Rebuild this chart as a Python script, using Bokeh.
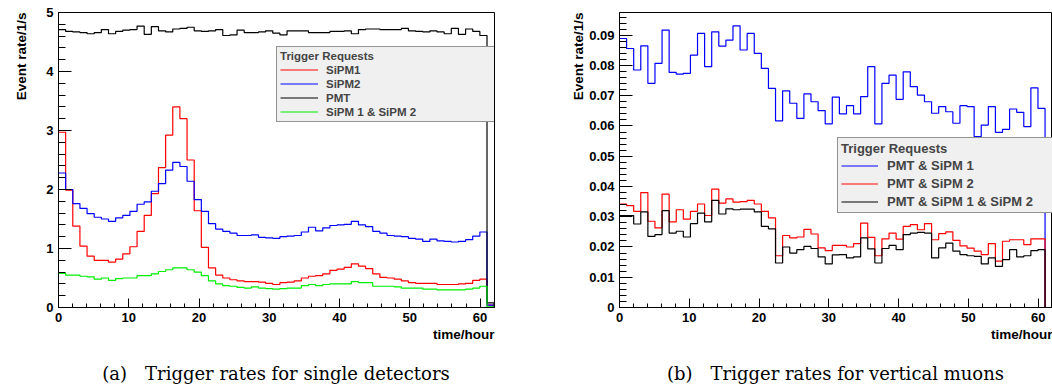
import numpy as np
from bokeh.plotting import figure
from bokeh.models import (Range1d, SingleIntervalTicker, Legend, LegendItem, Title,
                          PrintfTickFormatter, Div)
from bokeh.layouts import row, column
from bokeh.embed import file_html
from bokeh.resources import INLINE

# ---------------- data (rates per 1-hour-ish bin, 61 bins over 0..62 h) ----------------
n_bins = 61
t_end = 62.0

# panel (a): single detectors [1/s]
sipm1 = [2.97, 1.99, 1.38, 1.04, 0.87, 0.80, 0.80, 0.77, 0.82, 0.91,
         1.03, 1.29, 1.56, 1.93, 2.37, 2.92, 3.40, 3.20, 2.50, 1.64,
         1.02, 0.67, 0.55, 0.50, 0.47, 0.45, 0.44, 0.44, 0.43, 0.41,
         0.39, 0.42, 0.43, 0.45, 0.50, 0.53, 0.54, 0.57, 0.63, 0.65,
         0.68, 0.74, 0.70, 0.66, 0.57, 0.51, 0.50, 0.48, 0.45, 0.42,
         0.41, 0.41, 0.41, 0.39, 0.39, 0.39, 0.40, 0.41, 0.46, 0.48,
         0.04]
sipm2 = [2.28, 2.00, 1.76, 1.68, 1.59, 1.53, 1.50, 1.46, 1.52, 1.56,
         1.63, 1.75, 1.79, 1.97, 2.10, 2.33, 2.46, 2.39, 2.14, 1.83,
         1.63, 1.42, 1.33, 1.29, 1.26, 1.22, 1.22, 1.23, 1.19, 1.18,
         1.17, 1.20, 1.21, 1.22, 1.28, 1.36, 1.30, 1.35, 1.39, 1.40,
         1.41, 1.46, 1.40, 1.37, 1.29, 1.26, 1.22, 1.21, 1.20, 1.17,
         1.16, 1.12, 1.16, 1.13, 1.12, 1.11, 1.12, 1.15, 1.21, 1.28,
         0.04]
pmt = [4.71, 4.68, 4.67, 4.66, 4.64, 4.66, 4.71, 4.64, 4.68, 4.70,
       4.71, 4.77, 4.63, 4.76, 4.69, 4.67, 4.72, 4.73, 4.75, 4.69,
       4.68, 4.69, 4.71, 4.61, 4.62, 4.70, 4.66, 4.66, 4.67, 4.69,
       4.65, 4.62, 4.69, 4.69, 4.69, 4.66, 4.66, 4.66, 4.68, 4.68,
       4.69, 4.64, 4.71, 4.72, 4.72, 4.71, 4.71, 4.71, 4.73, 4.69,
       4.68, 4.67, 4.69, 4.67, 4.64, 4.73, 4.63, 4.72, 4.68, 4.61,
       0.08]
sipm1_and_2 = [0.58, 0.55, 0.55, 0.53, 0.52, 0.48, 0.50, 0.46, 0.49, 0.50,
               0.50, 0.54, 0.54, 0.57, 0.61, 0.64, 0.67, 0.67, 0.64, 0.60,
               0.54, 0.45, 0.40, 0.37, 0.36, 0.34, 0.33, 0.35, 0.33, 0.32,
               0.31, 0.32, 0.33, 0.33, 0.37, 0.39, 0.37, 0.39, 0.40, 0.40,
               0.40, 0.44, 0.42, 0.42, 0.36, 0.36, 0.36, 0.35, 0.33, 0.33,
               0.33, 0.31, 0.31, 0.30, 0.30, 0.30, 0.30, 0.31, 0.33, 0.36,
               0.01]

# panel (b): vertical muons [1/s]
pmt_sipm1 = [.0889, .0856, .0785, .0865, .0741, .0807, .0917, .0777, .0771, .0774,
             .0834, .0906, .0796, .0911, .0864, .0884, .0931, .0851, .0906, .0840,
             .0790, .0724, .0617, .0716, .0675, .0625, .0706, .0680, .0651, .0607,
             .0695, .0640, .0667, .0640, .0697, .0796, .0607, .0741, .0768, .0688,
             .0779, .0730, .0702, .0680, .0642, .0664, .0647, .0609, .0667, .0664,
             .0565, .0603, .0664, .0579, .0589, .0656, .0645, .0598, .0726, .0658,
             0.0]
pmt_sipm2 = [.0342, .0337, .0318, .0380, .0285, .0263, .0375, .0283, .0323, .0292,
             .0318, .0342, .0304, .0391, .0345, .0359, .0348, .0350, .0354, .0342,
             .0318, .0296, .0171, .0238, .0230, .0233, .0258, .0243, .0197, .0188,
             .0205, .0205, .0200, .0211, .0279, .0232, .0171, .0227, .0246, .0226,
             .0268, .0274, .0257, .0277, .0224, .0244, .0250, .0222, .0204, .0196,
             .0186, .0175, .0211, .0153, .0219, .0224, .0224, .0208, .0227, .0227,
             0.0]
pmt_sipm1_sipm2 = [.0304, .0304, .0276, .0316, .0235, .0241, .0320, .0246, .0252, .0233,
                   .0277, .0312, .0283, .0354, .0309, .0326, .0323, .0325, .0325, .0316,
                   .0268, .0260, .0147, .0200, .0180, .0191, .0202, .0195, .0167, .0144,
                   .0174, .0175, .0164, .0167, .0230, .0194, .0147, .0195, .0205, .0191,
                   .0241, .0246, .0248, .0246, .0164, .0197, .0213, .0186, .0175, .0171,
                   .0169, .0144, .0164, .0136, .0158, .0191, .0167, .0171, .0188, .0191,
                   0.0]

labels_a = ["SiPM1", "SiPM2", "PMT", "SiPM 1 & SiPM 2"]
labels_b = ["PMT & SiPM 1", "PMT & SiPM 2", "PMT & SiPM 1 & SiPM 2"]
legend_title = "Trigger Requests"
caption_a = "(a)\u2003Trigger rates for single detectors"
caption_b = "(b)\u2003Trigger rates for vertical muons"

edges = np.linspace(0.0, t_end, n_bins + 1)

SANS = "Liberation Sans"
SERIF = "DejaVu Serif"


def hist_xy(vals):
    return list(edges), list(vals) + [0.0]


def make_fig(y_end, y_interval, min_left, min_right, label_pad, label_valign):
    p = figure(width=526, height=355,
               x_range=Range1d(0, 62.05), y_range=Range1d(0, y_end),
               output_backend="svg", toolbar_location=None,
               min_border_left=min_left, min_border_right=min_right,
               min_border_top=12, min_border_bottom=48)
    p.xgrid.visible = False
    p.ygrid.visible = False
    p.outline_line_color = "black"
    p.outline_line_width = 1
    p.background_fill_color = "white"
    p.border_fill_color = "white"

    p.xaxis.ticker = SingleIntervalTicker(interval=10, num_minor_ticks=5)
    p.yaxis.ticker = SingleIntervalTicker(interval=y_interval, num_minor_ticks=5)
    for ax in (p.xaxis[0], p.yaxis[0]):
        ax.axis_line_color = "black"
        ax.major_tick_line_color = "black"
        ax.minor_tick_line_color = "black"
        ax.major_tick_out = 0
        ax.minor_tick_out = 0
        ax.major_label_text_font = SANS
        ax.major_label_text_font_style = "bold"
        ax.major_label_text_font_size = "13px"
        ax.major_label_text_color = "black"
        ax.major_label_standoff = 5
    p.xaxis.major_tick_in = 9
    p.xaxis.minor_tick_in = 4
    p.yaxis.major_tick_in = 13
    p.yaxis.minor_tick_in = 7

    ytitle = Title(text="Event rate/1/s", align="right", vertical_align=label_valign,
                   text_font=SANS, text_font_style="bold", text_font_size="13.5px",
                   text_color="black", standoff=label_pad)
    p.add_layout(ytitle, "left")
    xtitle = Title(text="time/hour", align="right", text_font=SANS,
                   text_font_style="bold", text_font_size="13.5px",
                   text_color="black", standoff=0)
    p.add_layout(xtitle, "below")
    return p


def caption_div(text, left, right):
    inner = ('<div style="margin-left:%dpx;width:%dpx;text-align:center;'
             'font-family:\'DejaVu Serif\',serif;font-size:18px;line-height:21px;'
             'padding-top:8px;color:black;white-space:nowrap;">%s</div>'
             % (left, 526 - left - right, text))
    return Div(text=inner, width=526, height=34, margin=0)


# ---------------- panel (a) ----------------
pa = make_fig(5.0, 1, 58, 32, 26, "top")
series_a = [(sipm1, "#ff0000"), (sipm2, "#0000ff"), (pmt, "#000000"), (sipm1_and_2, "#00ee00")]
rend_a = []
for vals, col in series_a:
    x, y = hist_xy(vals)
    rend_a.append(pa.step(x, y, mode="after", line_color=col, line_width=1.2))

leg_a = Legend(items=[LegendItem(label=l, renderers=[r]) for l, r in zip(labels_a, rend_a)],
               location=(218, 185), title=legend_title,
               title_text_font=SANS, title_text_font_style="bold", title_text_font_size="11.5px",
               title_standoff=1,
               label_text_font=SANS, label_text_font_style="bold", label_text_font_size="11.5px",
               glyph_width=38, glyph_height=13, label_height=13, label_standoff=8,
               label_width=166, spacing=1, padding=3, margin=0,
               background_fill_color="#f0f0f0", background_fill_alpha=1.0,
               border_line_color="#333333", border_line_width=1)
pa.add_layout(leg_a)

# ---------------- panel (b) ----------------
pb = make_fig(0.0975, 0.01, 93, 0, 2, "bottom")
pb.yaxis.formatter = PrintfTickFormatter(format="%.2f")
pb.yaxis.major_label_overrides = {0: "0"}
series_b = [(pmt_sipm1, "#0000ff"), (pmt_sipm2, "#ff0000"), (pmt_sipm1_sipm2, "#000000")]
rend_b = []
for vals, col in series_b:
    x, y = hist_xy(vals)
    rend_b.append(pb.step(x, y, mode="after", line_color=col, line_width=1.2))

leg_b = Legend(items=[LegendItem(label=l, renderers=[r]) for l, r in zip(labels_b, rend_b)],
               location=(218, 94), title=legend_title,
               title_text_font=SANS, title_text_font_style="bold", title_text_font_size="13px",
               title_standoff=2,
               label_text_font=SANS, label_text_font_style="bold", label_text_font_size="13px",
               glyph_width=37, glyph_height=15, label_height=15, label_standoff=9,
               label_width=163, spacing=3, padding=3, margin=0,
               background_fill_color="#f0f0f0", background_fill_alpha=1.0,
               border_line_color="#333333", border_line_width=1)
pb.add_layout(leg_b)

cap_a = caption_div(caption_a, 58, 32)
cap_b = caption_div(caption_b, 93, 0)

layout = column(row(pa, pb, spacing=0), row(cap_a, cap_b, spacing=0), spacing=0)
open("out.html", "w").write(file_html(layout, INLINE))
